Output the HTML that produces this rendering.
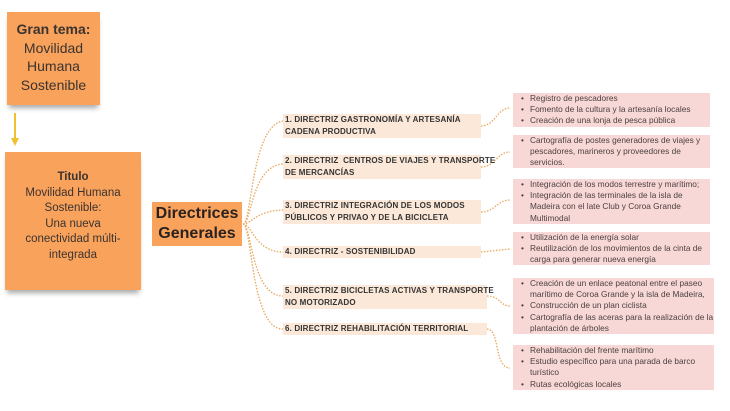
<!DOCTYPE html>
<html><head><meta charset="utf-8"><style>
body{margin:0;width:730px;height:411px;background:#fff;position:relative;overflow:hidden;font-family:"Liberation Sans",sans-serif;color:#3a3330}
.o{position:absolute;background:#f9a25b;text-align:center;box-shadow:0 5px 5px -2px rgba(0,0,0,.35)}
.l{position:absolute;background:#fce8d8;font-weight:bold;font-size:8px;letter-spacing:0.15px;line-height:12px;padding-left:2px;color:#333;white-space:nowrap}
.b{position:absolute;background:#f8d8d6;font-size:8.3px;line-height:11.2px;color:#4a4040}
.b ul{margin:0;padding:0 0 0 17px}
.b li{list-style:none;position:relative}
.b li:before{content:"•";position:absolute;left:-9px}
svg{position:absolute;left:0;top:0}
</style></head><body>
<svg width="730" height="411">
<g fill="none" stroke="#e8a65a" stroke-width="1.3" stroke-dasharray="1.5 1.5">
<path d="M243 224 C252 224,251 126,283 121"/>
<path d="M243 224 C252 224,251 166,283 164"/>
<path d="M243 224 C252 224,255 211,283 210"/>
<path d="M243 224 C252 224,255 252,283 252"/>
<path d="M243 224 C252 224,251 296,283 296"/>
<path d="M243 224 C252 224,251 330,283 329"/>
<path d="M481 126 C495 126,497 108,510 108"/>
<path d="M481 167 C495 167,497 152,510 152"/>
<path d="M481 212 C495 212,497 200,510 200"/>
<path d="M481 252 L510 249"/>
<path d="M487 296 C500 296,500 306,510 306"/>
<path d="M487 329 C500 329,494 368,510 368"/>
</g>
<path d="M15 113 L15 140" stroke="#f0c030" stroke-width="2"/>
<path d="M11 138 L15 146 L19 138Z" fill="#f0c030"/>
</svg>
<div class="o" style="left:7px;top:12px;width:93px;height:93px;font-size:14px;line-height:18.5px;padding-top:8px;box-sizing:border-box"><b>Gran tema:</b><br>Movilidad<br>Humana<br>Sostenible</div>
<div class="o" style="left:5px;top:152px;width:136px;height:138px;font-size:11.5px;line-height:15.5px;padding-top:18px;box-sizing:border-box"><b>Titulo</b><br>Movilidad Humana<br>Sostenible:<br>Una nueva<br>conectividad múlti-<br>integrada</div>
<div class="o" style="left:152px;top:202px;width:90px;height:44px;font-size:16px;line-height:20px;font-weight:bold;padding-top:2px;box-sizing:border-box;box-shadow:none;color:#2a2220">Directrices<br>Generales</div>
<div class="l" style="left:283px;top:114px;width:196px">1. DIRECTRIZ GASTRONOMÍA Y ARTESANÍA<br>CADENA PRODUCTIVA</div>
<div class="l" style="left:283px;top:155px;width:196px">2. DIRECTRIZ &nbsp;CENTROS DE VIAJES Y TRANSPORTE<br>DE MERCANCÍAS</div>
<div class="l" style="left:283px;top:200px;width:196px">3. DIRECTRIZ INTEGRACIÓN DE LOS MODOS<br>PÚBLICOS Y PRIVAO Y DE LA BICICLETA</div>
<div class="l" style="left:283px;top:246px;width:196px">4. DIRECTRIZ - SOSTENIBILIDAD</div>
<div class="l" style="left:283px;top:285px;width:202px">5. DIRECTRIZ BICICLETAS ACTIVAS Y TRANSPORTE<br>NO MOTORIZADO</div>
<div class="l" style="left:283px;top:323px;width:202px">6. DIRECTRIZ REHABILITACIÓN TERRITORIAL</div>
<div class="b" style="left:513px;top:93px;width:197px;height:34px"><ul><li>Registro de pescadores</li><li>Fomento de la cultura y la artesanía locales</li><li>Creación de una lonja de pesca pública</li></ul></div>
<div class="b" style="left:513px;top:135px;width:197px;height:33px"><ul><li>Cartografía de postes generadores de viajes y pescadores, marineros y proveedores de servicios.</li></ul></div>
<div class="b" style="left:513px;top:179px;width:197px;height:45px"><ul><li>Integración de los modos terrestre y marítimo;</li><li>Integración de las terminales de la isla de Madeira con el late Club y Coroa Grande Multimodal</li></ul></div>
<div class="b" style="left:513px;top:232px;width:197px;height:33px"><ul><li>Utilización de la energía solar</li><li>Reutilización de los movimientos de la cinta de carga para generar nueva energía</li></ul></div>
<div class="b" style="left:513px;top:278px;width:201px;height:56px"><ul><li>Creación de un enlace peatonal entre el paseo marítimo de Coroa Grande y la isla de Madeira,</li><li>Construcción de un plan ciclista</li><li>Cartografía de las aceras para la realización de la plantación de árboles</li></ul></div>
<div class="b" style="left:513px;top:345px;width:201px;height:45px"><ul><li>Rehabilitación del frente marítimo</li><li>Estudio específico para una parada de barco turístico</li><li>Rutas ecológicas locales</li></ul></div>
</body></html>
